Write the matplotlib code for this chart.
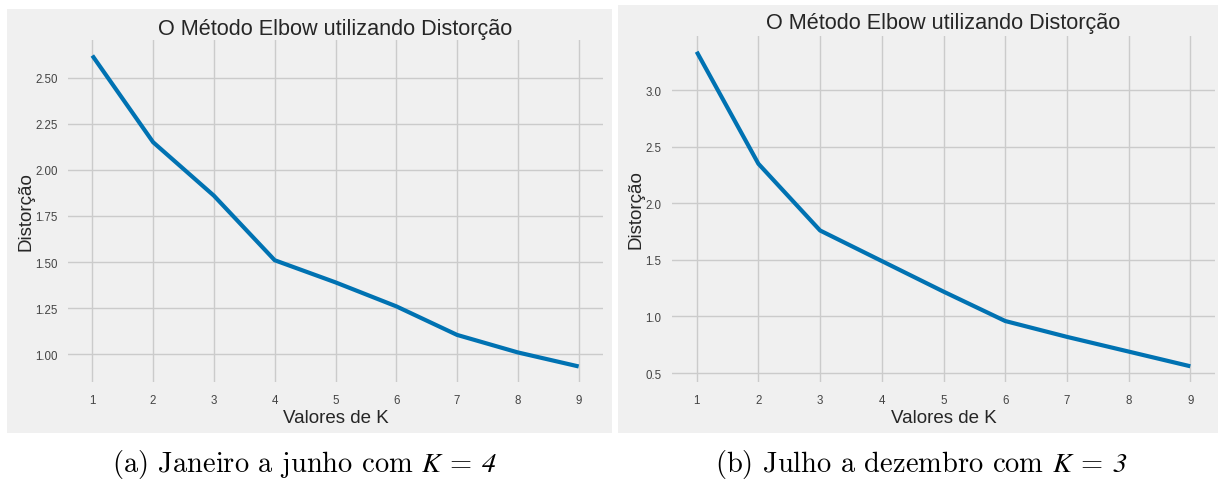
import matplotlib
matplotlib.use("Agg")
import matplotlib.pyplot as plt
from matplotlib.patches import Rectangle

# dados
k_values = [1, 2, 3, 4, 5, 6, 7, 8, 9]
dist_jan_jun = [2.62, 2.15, 1.86, 1.51, 1.39, 1.26, 1.105, 1.01, 0.934]
dist_jul_dez = [3.34, 2.35, 1.76, 1.49, 1.22, 0.96, 0.82, 0.69, 0.56]
yticks_a = [1.00, 1.25, 1.50, 1.75, 2.00, 2.25, 2.50]
yticks_b = [0.5, 1.0, 1.5, 2.0, 2.5, 3.0]
titulo = "O Método Elbow utilizando Distorção"
captions = ["(a) Janeiro a junho com $K$ =", "(b) Julho a dezembro com $K$ ="]
best_k = ["4", "3"]

plt.rcParams['font.family'] = ['Liberation Sans', 'DejaVu Sans']
plt.rcParams['mathtext.fontset'] = 'custom'
plt.rcParams['mathtext.rm'] = 'cmr10'
plt.rcParams['mathtext.it'] = 'STIXGeneral:italic'

W, H = 1218, 481
fig = plt.figure(figsize=(W / 100, H / 100), dpi=100, facecolor='white')

def px(x0, y0, x1, y1):
    # caixa em pixels (origem no topo) -> fracao da figura
    return [x0 / W, 1 - y1 / H, (x1 - x0) / W, (y1 - y0) / H]

# paineis cinza
for box in [(7, 10, 612, 434), (618, 6, 1218, 434)]:
    l, b, w, h = px(*box)
    fig.patches.append(Rectangle((l, b), w, h, transform=fig.transFigure,
                                 facecolor='#f0f0f0', edgecolor='none', zorder=-1))

ax1 = fig.add_axes(px(68, 41, 603, 383))
ax2 = fig.add_axes(px(672, 37, 1215, 383))

for ax, y, yt, fmt, tpad in [(ax1, dist_jan_jun, yticks_a, '{:.2f}', 4.5),
                             (ax2, dist_jul_dez, yticks_b, '{:.1f}', 5.5)]:
    ax.set_facecolor('#f0f0f0')
    ax.plot(k_values, y, color='#0072B2', linewidth=3, solid_capstyle='butt')
    ax.set_xticks(k_values)
    ax.set_yticks(yt)
    ax.set_yticklabels([fmt.format(v) for v in yt])
    ax.grid(True, color='#cbcbcb', linewidth=1.0)
    ax.set_axisbelow(True)
    for s in ax.spines.values():
        s.set_visible(False)
    ax.tick_params(axis='both', length=0, labelsize=8.3, colors='#444444')
    ax.tick_params(axis='x', pad=8.5)
    ax.tick_params(axis='y', pad=7.5)
    ax.set_title(titulo, fontsize=15.6, color='#262626', pad=tpad)
    ax.set_xlabel("Valores de K", fontsize=13.5, color='#262626', labelpad=2.5)
    ax.set_ylabel("Distorção", fontsize=13.5, color='#262626', labelpad=0.5)

# legendas das subfiguras, com o digito em italico
renderer = fig.canvas.get_renderer()
fs = 20.5
gap = fs * 100 / 72 * 0.33
for cx, cap, kk in zip([304, 921], captions, best_k):
    t1 = fig.text(0, 1 - 472 / H, cap, family='cmr10', fontsize=fs,
                  ha='left', va='baseline', color='black')
    t2 = fig.text(0, 1 - 472 / H, kk, family='STIXGeneral', style='italic',
                  fontsize=fs, ha='left', va='baseline', color='black')
    w1 = t1.get_window_extent(renderer).width
    w2 = t2.get_window_extent(renderer).width
    x0 = cx - (w1 + gap + w2) / 2
    t1.set_x(x0 / W)
    t2.set_x((x0 + w1 + gap) / W)

fig.savefig("out.png", dpi=100, facecolor='white')
